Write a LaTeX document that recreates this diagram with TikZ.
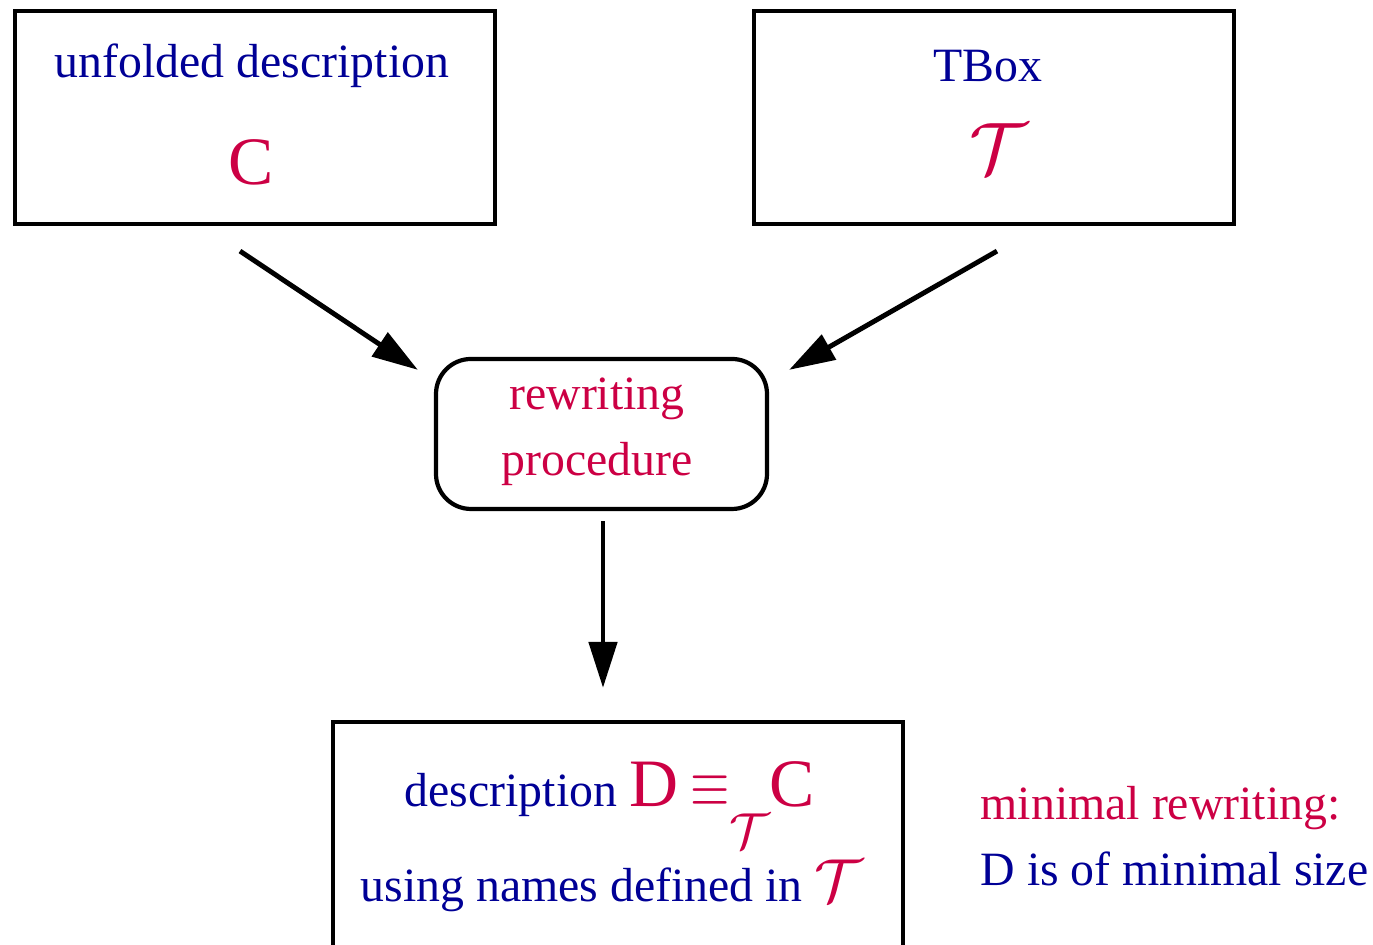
\documentclass[tikz,border=0pt]{standalone}
\usepackage{fontspec}
\setmainfont{Liberation Serif}
\usepackage{xcolor}
\usepackage{graphicx}
\usetikzlibrary{positioning}
\usetikzlibrary{calc}
\usetikzlibrary{arrows.meta}

\definecolor{txtblue}{RGB}{0,0,150}
\definecolor{txtred}{RGB}{204,0,68}

\newcommand{\bigsize}{\fontsize{19.3}{22}\selectfont}

\tikzset{
	box/.style = {draw, line width = 1.2pt, minimum width = 4.80cm, minimum height = 2.13cm},
	procbox/.style = {draw, line width = 1.2pt, rounded corners = 0.35cm, minimum width = 3.31cm, minimum height = 1.50cm},
	flow/.style = {line width = 1.4pt, -{Triangle[length = 0.46cm, width = 0.28cm]}},
	bluetext/.style = {anchor = base, inner sep = 0pt, text = txtblue, font = \fontsize{13.6}{16}\selectfont},
	redtext/.style = {anchor = base, inner sep = 0pt, text = txtred, font = \fontsize{13.6}{16}\selectfont},
	bigred/.style = {anchor = base, inner sep = 0pt, text = txtred, font = \bigsize}
}

\begin{document}
\begin{tikzpicture}
		\useasboundingbox (0, 0) rectangle (13.73, 9.45);

		% input boxes
		\node [box] (unfolded) at (2.55, 8.275) {};
		\node [bluetext] (unfoldedtext) at (2.52, 8.67) {unfolded description};
		\node [bigred] (concept) at (2.51, 7.60) {C};

		\node [box] (tbox) at (9.94, 8.275) {};
		\node [bluetext] (tboxtext) at (9.88, 8.63) {TBox};
		\node [bigred] (tboxsym) at (9.99, 7.71) {$\mathcal{T}$};

		% procedure
		\node [procbox] (rewrite) at (6.015, 5.11) {};
		\node [redtext] (rewritetop) at (5.97, 5.35) {rewriting};
		\node [redtext] (rewritebot) at (5.97, 4.69) {procedure};

		% result box, cut off at the bottom
		\node [box, minimum width = 5.70cm, minimum height = 2.73cm] (result) at (6.18, 0.865) {};
		\node [bluetext] (resulttop) at (6.10, 1.38) {description {\color{txtred}{\bigsize D} \scalebox{1}[1.3]{$\equiv$}\raisebox{-0.42cm}{$\mathcal{T}$}{\bigsize C}}};
		\node [bluetext] (resultbot) at (6.12, 0.43) {using names defined in {\color{txtred}\fontsize{17}{20}\selectfont$\mathcal{T}$}};

		\node [redtext, anchor = base west] (minimal) at (9.80, 1.25) {minimal rewriting:};
		\node [bluetext, anchor = base west] (minsize) at (9.80, 0.59) {D is of minimal size};

		% arrows
		\coordinate (leftstart) at ($(unfolded.south) + (-0.15, -0.25)$);
		\coordinate (leftend) at ($(rewrite.north west) + (-0.16, -0.13)$);
		\coordinate (rightstart) at ($(tbox.south) + (0.03, -0.25)$);
		\coordinate (rightend) at ($(rewrite.north east) + (0.20, -0.13)$);
		\coordinate (downstart) at ($(rewrite.south) + (0.015, -0.10)$);
		\coordinate (downend) at ($(result.north) + (-0.15, 0.32)$);

		\draw [flow] (leftstart) -- (leftend);
		\draw [flow] (rightstart) -- (rightend);
		\draw [flow] (downstart) -- (downend);
	\end{tikzpicture}
\end{document}
